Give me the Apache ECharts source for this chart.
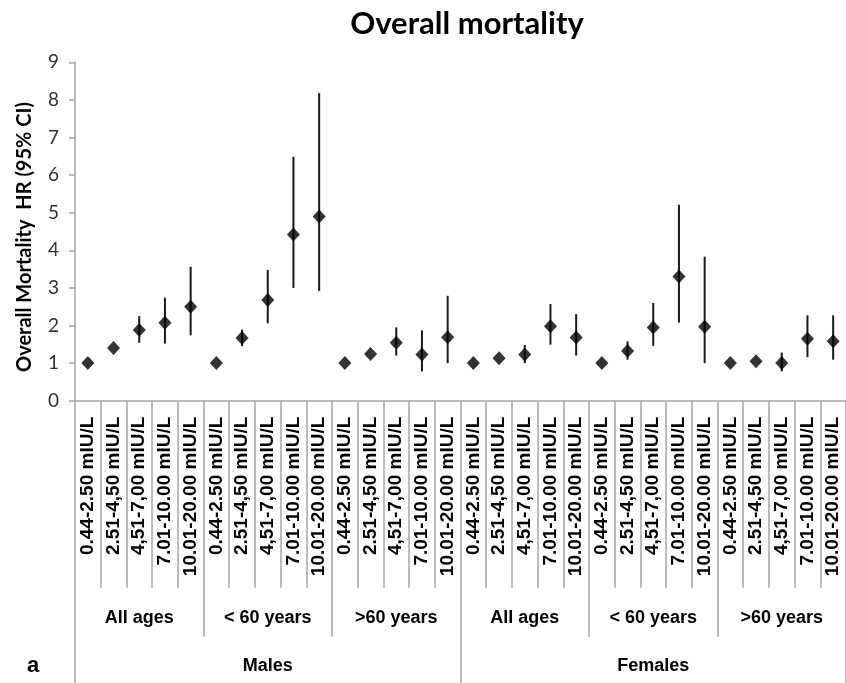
<!DOCTYPE html>
<html>
<head>
<meta charset="utf-8">
<script src="https://cdn.jsdelivr.net/npm/echarts@6/dist/echarts.min.js"></script>
<style>
  html, body { margin: 0; padding: 0; background: #fff; }
  #chart { width: 846px; height: 683px; }
</style>
</head>
<body>
<div id="chart"></div>
<script>
// TSH bands, age strata and sexes that make up the three-level category axis
const tshBands = ['0.44-2.50 mIU/L', '2.51-4,50 mIU/L', '4,51-7,00 mIU/L', '7.01-10.00 mIU/L', '10.01-20.00 mIU/L'];
const ageGroups = ['All ages', '< 60 years', '>60 years'];
const sexes = ['Males', 'Females'];

// Hazard ratios, one entry per TSH band, in the order Males (all, <60, >60), Females (all, <60, >60)
const hrMalesAll     = [1.00, 1.40, 1.88, 2.07, 2.50];
const hrMalesUnder60 = [1.00, 1.67, 2.68, 4.42, 4.90];
const hrMalesOver60  = [1.00, 1.24, 1.54, 1.23, 1.69];
const hrFemalesAll     = [1.00, 1.13, 1.23, 1.98, 1.68];
const hrFemalesUnder60 = [1.00, 1.32, 1.95, 3.30, 1.97];
const hrFemalesOver60  = [1.00, 1.05, 1.00, 1.65, 1.58];

// 95% confidence limits (null where the interval is hidden behind the marker)
const loMalesAll     = [null, null, 1.54, 1.52, 1.74];
const hiMalesAll     = [null, null, 2.25, 2.74, 3.56];
const loMalesUnder60 = [null, 1.45, 2.06, 3.00, 2.92];
const hiMalesUnder60 = [null, 1.89, 3.48, 6.49, 8.18];
const loMalesOver60  = [null, null, 1.20, 0.78, 1.00];
const hiMalesOver60  = [null, null, 1.95, 1.87, 2.79];
const loFemalesAll     = [null, null, 1.00, 1.49, 1.20];
const hiFemalesAll     = [null, null, 1.48, 2.57, 2.30];
const loFemalesUnder60 = [null, 1.09, 1.46, 2.08, 1.00];
const hiFemalesUnder60 = [null, 1.58, 2.60, 5.21, 3.83];
const loFemalesOver60  = [null, null, 0.78, 1.16, 1.09];
const hiFemalesOver60  = [null, null, 1.28, 2.27, 2.27];

const yTicks = { min: 0, max: 9, interval: 1 };
const yTitle = 'Overall Mortality  HR (95% CI)';

// Flatten strata into the 30 x-axis slots
const hr = [].concat(hrMalesAll, hrMalesUnder60, hrMalesOver60, hrFemalesAll, hrFemalesUnder60, hrFemalesOver60);
const lo = [].concat(loMalesAll, loMalesUnder60, loMalesOver60, loFemalesAll, loFemalesUnder60, loFemalesOver60);
const hi = [].concat(hiMalesAll, hiMalesUnder60, hiMalesOver60, hiFemalesAll, hiFemalesUnder60, hiFemalesOver60);

const bandCats = [];
const ageCats = [];
sexes.forEach(function () {
  ageGroups.forEach(function (a) {
    ageCats.push(a);
    tshBands.forEach(function (b) { bandCats.push(b); });
  });
});

const ciData = hr.map(function (v, i) { return [i, lo[i], hi[i]]; }).filter(function (d) { return d[1] != null; });

const gridLine = '#a6a6a6';
const labelFont = '"Liberation Sans", Arial, sans-serif';
const headFont = 'Lato, "Open Sans", sans-serif';

const chart = echarts.init(document.getElementById('chart'), null, { renderer: 'canvas' });
chart.setOption({
  animation: false,
  backgroundColor: '#ffffff',
  title: {
    text: 'Overall mortality',
    left: 462,
    top: 3,
    textAlign: 'center',
    textStyle: { fontFamily: headFont, fontWeight: 'bold', fontSize: 31, color: '#000' }
  },
  graphic: [
    {
      // panel letter in the lower-left corner
      type: 'text',
      left: 27,
      top: 655,
      style: { text: 'a', font: 'bold 22px "Liberation Sans", Arial, sans-serif', fill: '#000' }
    },
    {
      // vertical axis title, reading bottom to top
      type: 'text',
      x: 25,
      y: 237,
      rotation: Math.PI / 2,
      style: {
        text: yTitle,
        font: 'bold 20px ' + headFont,
        fill: '#000',
        align: 'center',
        verticalAlign: 'middle'
      }
    }
  ],
  grid: { left: 75, right: 0, top: 62.3, bottom: 282.3, containLabel: false },
  xAxis: [
    {
      type: 'category',
      data: bandCats,
      boundaryGap: true,
      axisLine: { show: true, lineStyle: { color: gridLine, width: 1.5 } },
      axisTick: { show: true, length: 187, lineStyle: { color: gridLine, width: 1.5 } },
      axisLabel: {
        interval: 0, rotate: 90, margin: 16,
        fontFamily: labelFont, fontWeight: 'bold', fontSize: 19, color: '#000'
      }
    },
    {
      type: 'category',
      data: ageCats,
      boundaryGap: true,
      position: 'bottom',
      axisLine: { show: false },
      axisTick: { show: true, length: 236, lineStyle: { color: gridLine, width: 1.5 } },
      axisLabel: {
        interval: 0, margin: 208,
        fontFamily: labelFont, fontWeight: 'bold', fontSize: 18, color: '#000'
      }
    },
    {
      type: 'category',
      data: sexes,
      boundaryGap: true,
      position: 'bottom',
      axisLine: { show: false },
      axisTick: { show: true, length: 300, lineStyle: { color: gridLine, width: 1.5 } },
      axisLabel: {
        interval: 0, margin: 256,
        fontFamily: labelFont, fontWeight: 'bold', fontSize: 18, color: '#000'
      }
    }
  ],
  yAxis: {
    type: 'value',
    min: yTicks.min,
    max: yTicks.max,
    interval: yTicks.interval,
    splitLine: { show: false },
    axisLine: { show: true, lineStyle: { color: gridLine, width: 1.5 } },
    axisTick: { show: true, length: 6, lineStyle: { color: gridLine, width: 1.5 } },
    axisLabel: { margin: 16, fontFamily: headFont, fontSize: 19, color: '#333' }
  },
  series: [
    {
      type: 'custom',
      xAxisIndex: 0,
      data: ciData,
      z: 2,
      renderItem: function (params, api) {
        const top = api.coord([api.value(0), api.value(2)]);
        const bottom = api.coord([api.value(0), api.value(1)]);
        return {
          type: 'line',
          shape: { x1: top[0], y1: top[1], x2: bottom[0], y2: bottom[1] },
          style: { stroke: '#1a1a1a', lineWidth: 2 }
        };
      }
    },
    {
      type: 'scatter',
      xAxisIndex: 0,
      data: hr,
      symbol: 'diamond',
      symbolSize: [13, 14],
      itemStyle: { color: '#000' },
      z: 3
    }
  ]
});
</script>
</body>
</html>
